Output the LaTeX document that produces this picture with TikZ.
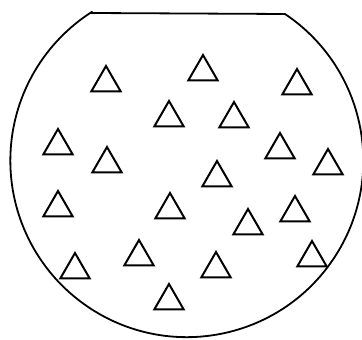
\documentclass[tikz,border=0pt]{standalone}
\usetikzlibrary{shapes.geometric}
\definecolor{ink}{HTML}{000000}

\begin{document}
\begin{tikzpicture}[x=1pt, y=1pt,
  rim/.style={draw=ink, line width=1.8pt, line join=round},
  tri/.style={regular polygon, regular polygon sides=3, draw=ink, line width=2pt, minimum size=34pt, inner sep=0pt}]
\useasboundingbox (0,0) rectangle (362,340);
% vessel: circle cut flat at the top
\coordinate (tl) at (91,327);
\coordinate (tr) at (285,326);
\draw[rim] (tl) -- (tr) arc[start angle=56.2, end angle=-237.5, radius=176.5] -- cycle;
% particles
\foreach \px/\py [count=\i] in {106/257, 203/268, 297/254, 169/222, 234/221, 58/194, 107/176,
    280/190, 328/174, 217/162, 58/132, 170/130, 248/114, 295/127, 75/70, 139/83, 216/71,
    312/82, 169/39}
  \node[tri] (p\i) at (\px,\py) {};
\end{tikzpicture}
\end{document}
